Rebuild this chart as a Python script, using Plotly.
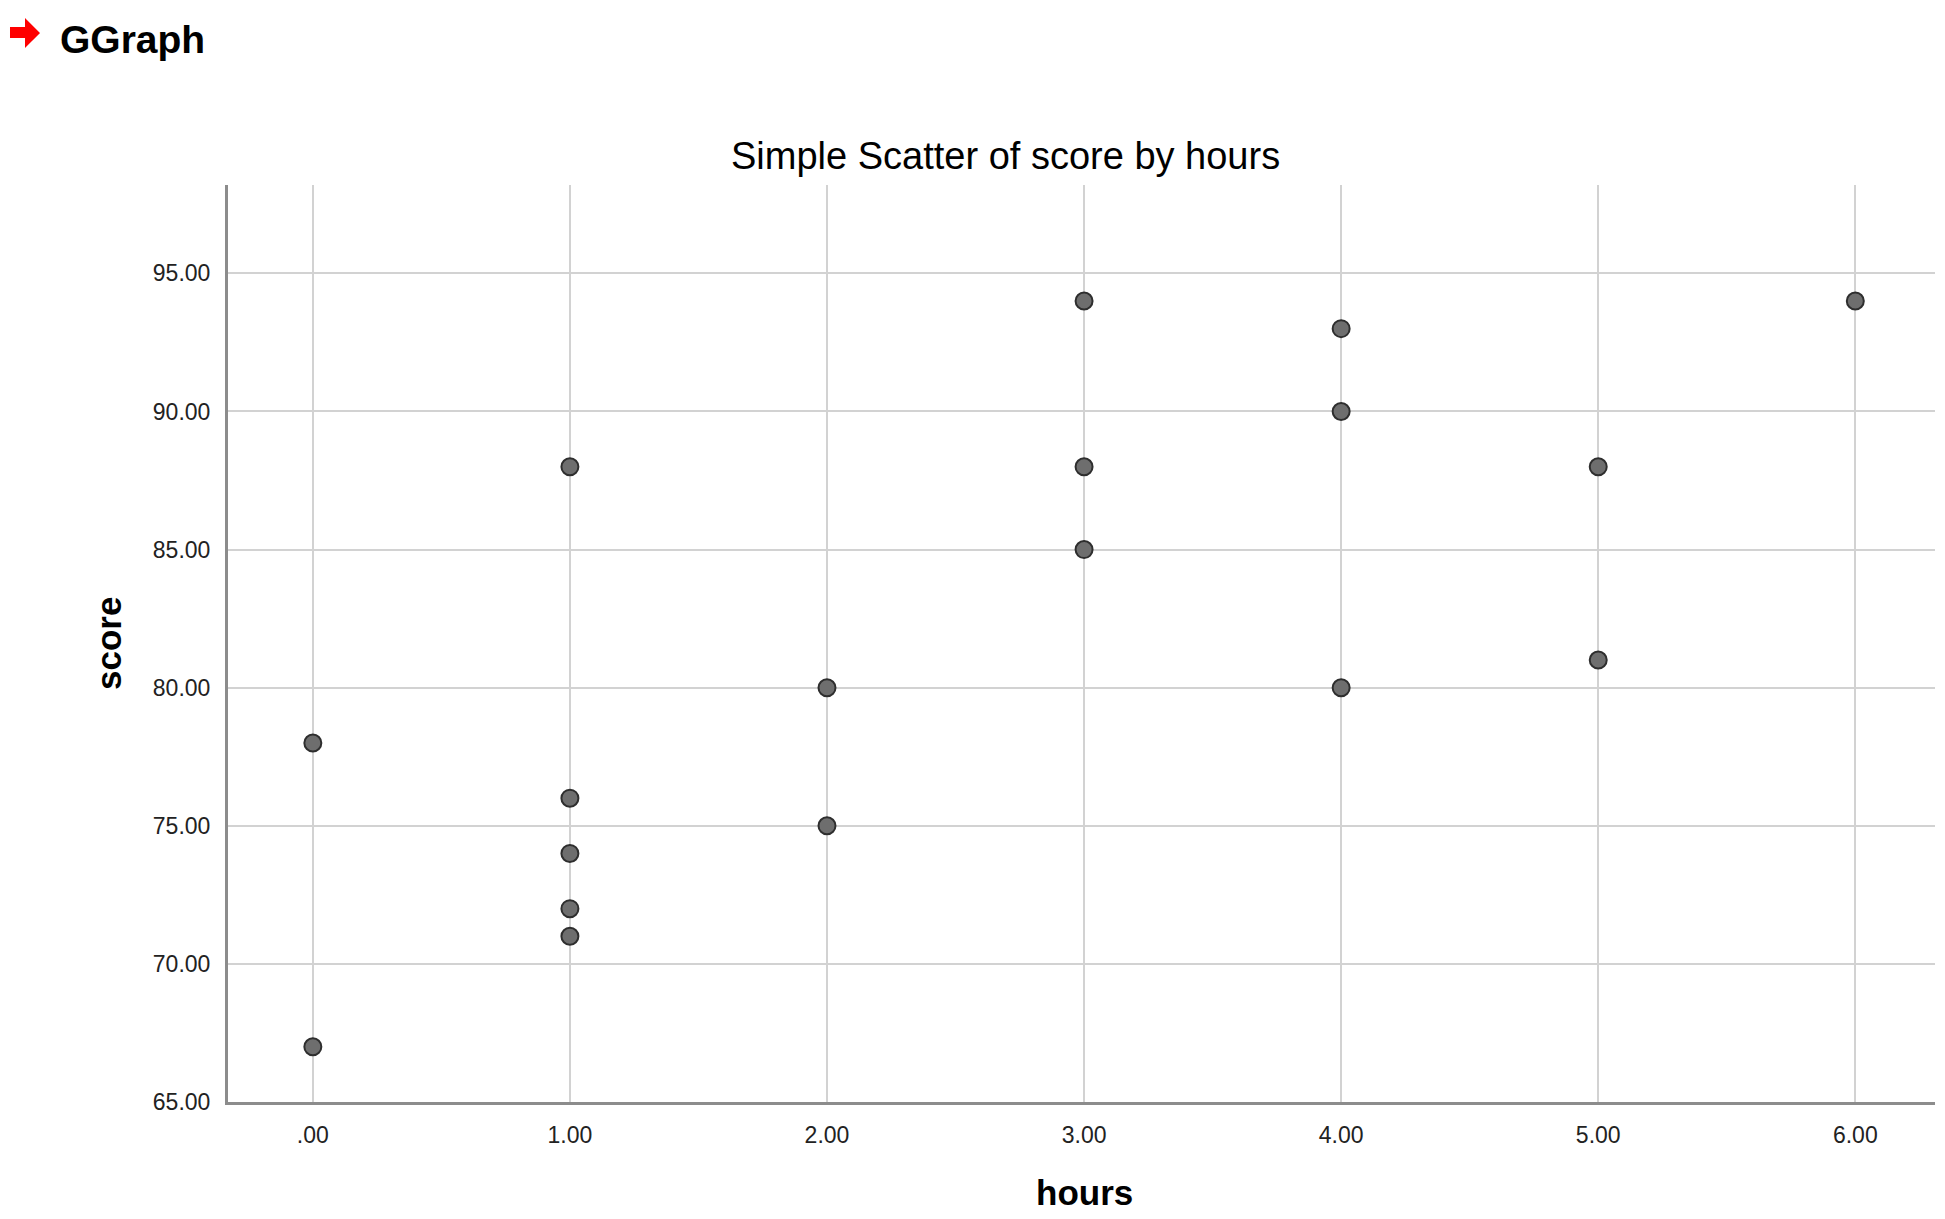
import plotly.graph_objects as go

# data
hours = [0, 0, 1, 1, 1, 1, 1, 2, 2, 3, 3, 3, 4, 4, 4, 5, 5, 6]
score = [78, 67, 88, 76, 74, 72, 71, 80, 75, 94, 88, 85, 93, 90, 80, 88, 81, 94]

x_ticks = [0, 1, 2, 3, 4, 5, 6]
x_labels = [".00", "1.00", "2.00", "3.00", "4.00", "5.00", "6.00"]
y_ticks = [65, 70, 75, 80, 85, 90, 95]
y_labels = ["65.00", "70.00", "75.00", "80.00", "85.00", "90.00", "95.00"]

# page body has an 8px margin, so figure coords = screen coords - 8
OFF = 8
W, H = 1929, 1210
L, R, T, B = 228 - OFF, 1935 - OFF, 185 - OFF, 1102 - OFF   # plot area


def px(x):
    # screen pixel -> paper x
    return (x - OFF - L) / (R - L)


def py(y):
    # screen pixel -> paper y
    return (B - (y - OFF)) / (B - T)


font = "Liberation Sans, Arial, sans-serif"

fig = go.Figure()
fig.add_trace(go.Scatter(
    x=hours, y=score, mode="markers",
    marker=dict(size=17, color="#6e6e6e", line=dict(color="#2e2e2e", width=2)),
    hoverinfo="x+y", showlegend=False,
))

axis_common = dict(
    showgrid=True, gridcolor="#d2d2d2", gridwidth=2,
    zeroline=False, showline=True, linecolor="#8c8c8c", linewidth=3,
    ticks="", tickfont=dict(family=font, size=23, color="#222"),
    fixedrange=True,
)

fig.update_xaxes(range=[-0.33, 6.31], tickvals=x_ticks, ticktext=x_labels,
                 ticklabelstandoff=10, **axis_common)
fig.update_yaxes(range=[65, 98.2], tickvals=y_ticks, ticktext=y_labels,
                 ticklabelstandoff=10, **axis_common)

# red arrow next to "GGraph"
arrow = [(10, 27), (25, 27), (25, 18), (40, 33), (25, 48), (25, 38), (10, 38)]
path = "M " + " L ".join(f"{px(a):.5f},{py(b):.5f}" for a, b in arrow) + " Z"
fig.add_shape(type="path", path=path, xref="paper", yref="paper",
              fillcolor="#ff0000", line=dict(width=0))

fig.add_annotation(text="<b>GGraph</b>", x=px(58), y=py(39), xref="paper", yref="paper",
                   xanchor="left", yanchor="middle", showarrow=False,
                   font=dict(family=font, size=39, color="#000"))
fig.add_annotation(text="Simple Scatter of score by hours", x=px(1005), y=py(156),
                   xref="paper", yref="paper", xanchor="center", yanchor="middle",
                   showarrow=False, font=dict(family=font, size=38, color="#000"))
fig.add_annotation(text="<b>hours</b>", x=px(1084), y=py(1192), xref="paper", yref="paper",
                   xanchor="center", yanchor="middle", showarrow=False,
                   font=dict(family=font, size=35, color="#000"))
fig.add_annotation(text="<b>score</b>", x=px(108), y=py(643), xref="paper", yref="paper",
                   xanchor="center", yanchor="middle", showarrow=False, textangle=-90,
                   font=dict(family=font, size=35, color="#000"))

fig.update_layout(
    width=W, height=H,
    margin=dict(l=L, r=W - R, t=T, b=H - B),
    plot_bgcolor="white", paper_bgcolor="white",
)

fig.write_html("out.html", config={"displayModeBar": False})
